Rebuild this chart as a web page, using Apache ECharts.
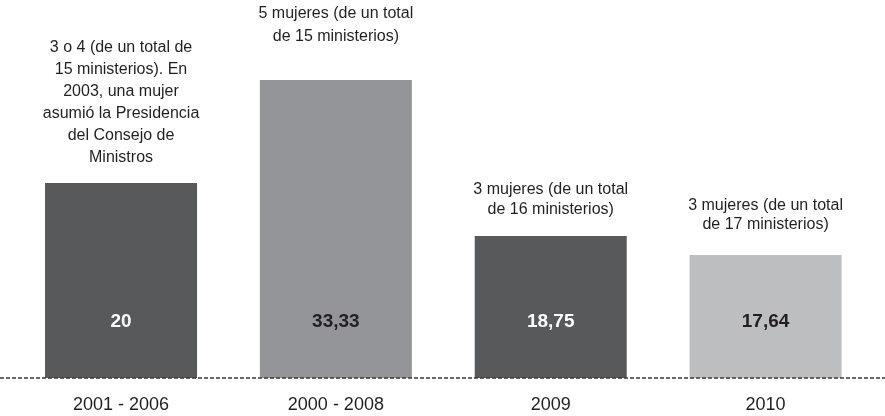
<!DOCTYPE html>
<html>
<head>
<meta charset="utf-8">
<title>Mujeres ministras</title>
<script src="https://cdn.jsdelivr.net/npm/echarts@6/dist/echarts.min.js"></script>
<style>
  html, body { margin: 0; padding: 0; background: #fff; }
  #main { width: 885px; height: 416px; }
</style>
</head>
<body>
<div id="main"></div>
<script type="text/javascript">
    // periodos
    var periodos = ['2001 - 2006', '2000 - 2008', '2009', '2010'];
    // porcentaje de mujeres (texto dentro de la barra)
    var porcentajes = ['20', '33,33', '18,75', '17,64'];
    // altura dibujada de cada barra (no es proporcional al porcentaje)
    var alturas = [19.5, 29.8, 14.2, 12.3];
    // notas encima de cada barra
    var notas = [
        '3 o 4 (de un total de\n15 ministerios). En\n2003, una mujer\nasumió la Presidencia\ndel Consejo de\nMinistros',
        '5 mujeres (de un total\nde 15 ministerios)',
        '3 mujeres (de un total\nde 16 ministerios)',
        '3 mujeres (de un total\nde 17 ministerios)'
    ];
    var colores = ['#58595b', '#939598', '#58595b', '#bcbec0'];
    var coloresTexto = ['#ffffff', '#231f20', '#ffffff', '#231f20'];
    var separacionNota = [14, 32, 16, 21];
    var interlineado = [22, 23, 20, 19];

    var fuente = '"Liberation Sans", Arial, sans-serif';

    var myChart = echarts.init(document.getElementById('main'));

    var option = {
        animation: false,
        grid: { left: 13.6, right: 12, top: 8, bottom: 38 },
        xAxis: {
            type: 'category',
            data: periodos,
            axisLine: { show: false },
            axisTick: { show: false },
            axisLabel: { color: '#231f20', fontSize: 18, fontFamily: fuente, margin: 18 }
        },
        yAxis: {
            type: 'value',
            min: 0,
            max: 37,
            show: false,
            splitLine: { show: false }
        },
        series: [{
            type: 'bar',
            barWidth: 152,
            data: alturas.map(function (v, i) {
                return {
                    value: v,
                    itemStyle: { color: colores[i] },
                    label: { color: coloresTexto[i] }
                };
            }),
            label: {
                show: true,
                position: 'insideBottom',
                distance: 47,
                fontSize: 19,
                fontWeight: 'bold',
                fontFamily: fuente,
                formatter: function (p) { return porcentajes[p.dataIndex]; }
            }
        }, {
            type: 'bar',
            barWidth: 152,
            barGap: '-100%',
            silent: true,
            itemStyle: { color: 'transparent' },
            data: alturas.map(function (v, i) {
                return {
                    value: v,
                    label: { distance: separacionNota[i], lineHeight: interlineado[i] }
                };
            }),
            label: {
                show: true,
                position: 'top',
                color: '#231f20',
                fontSize: 16,
                fontFamily: fuente,
                align: 'center',
                formatter: function (p) { return notas[p.dataIndex]; }
            }
        }]
    };
    myChart.setOption(option);

    // línea de base punteada a todo lo ancho
    var y0 = myChart.convertToPixel({ yAxisIndex: 0 }, 0);
    myChart.setOption({
        graphic: [{
            type: 'line',
            shape: { x1: 0, y1: y0, x2: 885, y2: y0 },
            style: { stroke: '#3a3a3a', lineWidth: 1.5, lineDash: [4, 2] },
            z: 10
        }]
    });
</script>
</body>
</html>
